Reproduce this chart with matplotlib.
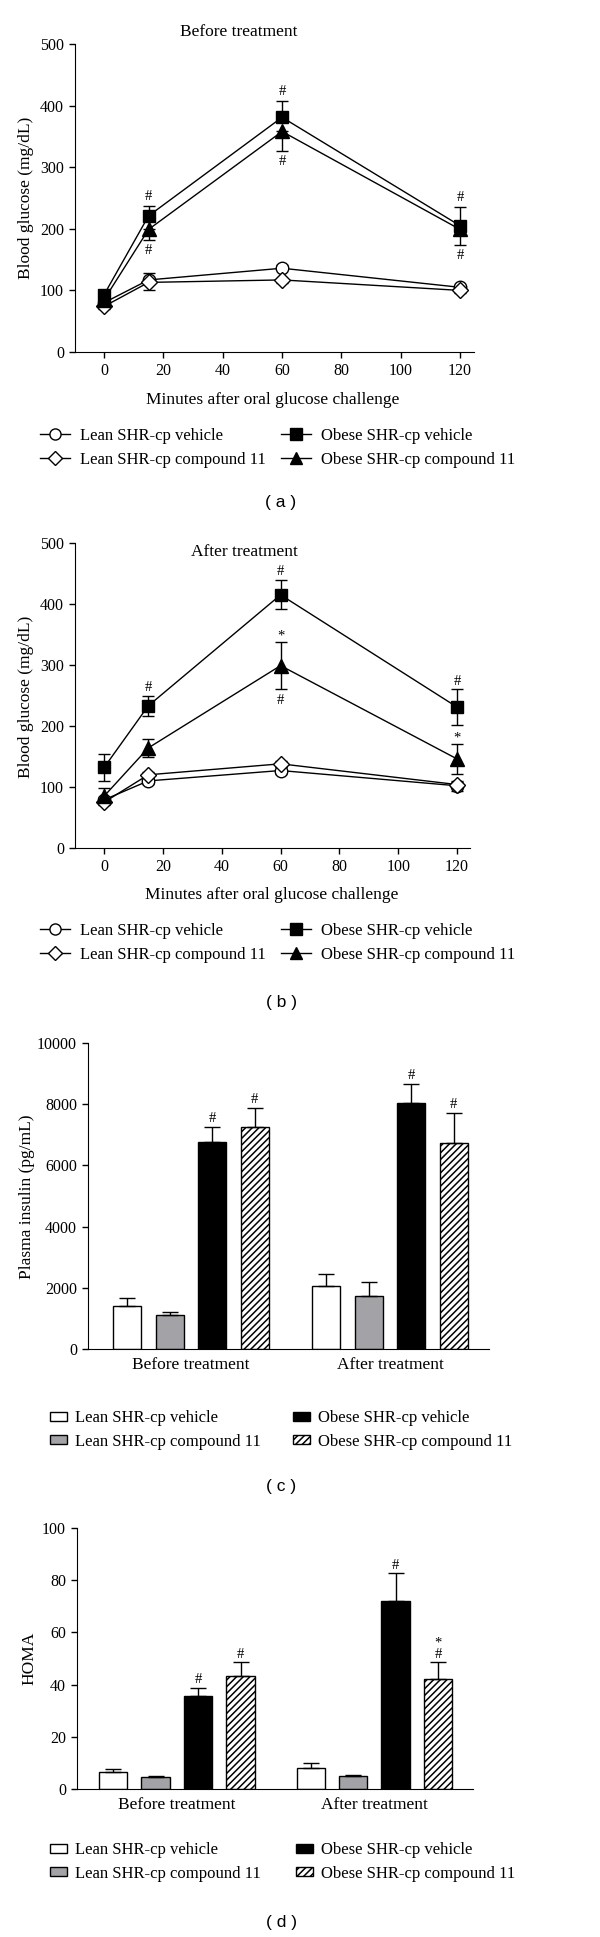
import matplotlib
matplotlib.use("Agg")
import matplotlib.pyplot as plt
from matplotlib.patches import Patch
from matplotlib.lines import Line2D
from matplotlib.legend import Legend

plt.rcParams['font.family'] = 'Liberation Serif'
plt.rcParams['hatch.linewidth'] = 1.1

W, H = 600, 1937

# ---- data ----
minutes = [0, 15, 60, 120]
labels = ['Lean SHR-cp vehicle', 'Lean SHR-cp compound 11',
          'Obese SHR-cp vehicle', 'Obese SHR-cp compound 11']

# (a) before treatment: mean, error (upper or lower side only)
lean_veh_a = [80, 117, 136, 105]
lean_veh_a_err = [5, 12, 5, 4]
lean_cmp_a = [74, 113, 117, 100]
lean_cmp_a_err = [4, 12, 5, 4]
obese_veh_a = [93, 221, 381, 205]
obese_veh_a_err = [8, 16, 26, 30]
obese_cmp_a = [85, 199, 358, 199]
obese_cmp_a_err = [6, 17, 31, 25]

# (b) after treatment: mean, symmetric error
lean_veh_b = [79, 110, 127, 102]
lean_veh_b_err = [4, 5, 5, 8]
lean_cmp_b = [75, 120, 138, 104]
lean_cmp_b_err = [4, 5, 5, 5]
obese_veh_b = [132, 233, 415, 231]
obese_veh_b_err = [22, 17, 24, 29]
obese_cmp_b = [85, 164, 299, 146]
obese_cmp_b_err = [13, 15, 39, 25]

groups = ['Before treatment', 'After treatment']
# (c) plasma insulin, per group: lean veh, lean cmp, obese veh, obese cmp
insulin_before = [1420, 1120, 6750, 7250]
insulin_before_err = [250, 80, 500, 620]
insulin_after = [2070, 1740, 8040, 6720]
insulin_after_err = [390, 440, 620, 990]

# (d) HOMA
homa_before = [6.5, 4.6, 35.8, 43.3]
homa_before_err = [1.3, 0.5, 2.9, 5.2]
homa_after = [7.9, 4.9, 71.9, 42.1]
homa_after_err = [2.1, 0.6, 10.7, 6.4]

# significance marks per group: (bar index, symbol, offset in points)
insulin_sig = [[(2, '#', 6), (3, '#', 6)], [(2, '#', 6), (3, '#', 6)]]
homa_sig = [[(2, '#', 6), (3, '#', 6)], [(2, '#', 6), (3, '#', 6), (3, '*', 14)]]

fig = plt.figure(figsize=(W / 100, H / 100), dpi=100)


def make_axes(l, r, t, b):
    ax = fig.add_axes([l / W, 1 - b / H, (r - l) / W, (b - t) / H])
    ax.spines['top'].set_visible(False)
    ax.spines['right'].set_visible(False)
    return ax


def ftext(x, y, s, **kw):
    fig.text(x / W, 1 - y / H, s, ha='center', va='center', **kw)


def mark(ax, x, y, s, dy):
    ax.annotate(s, (x, y), xytext=(0, dy), textcoords='offset points',
                ha='center', va='center', fontsize=10.5)


def add_legend(ax, handles, labs, x0, y_mid, **kw):
    lg = Legend(ax, handles, labs, loc='center left',
                bbox_to_anchor=(x0 / W, 1 - y_mid / H),
                bbox_transform=fig.transFigure, frameon=False, fontsize=12,
                borderpad=0, borderaxespad=0, **kw)
    ax.add_artist(lg)


def line_panel(ax, series):
    for y, yerr, mk, mfc, ms in series:
        ax.errorbar(minutes, y, yerr=yerr, color='black', marker=mk, mfc=mfc,
                    mec='black', ms=ms, lw=1.0, elinewidth=1.0, capsize=4.5,
                    capthick=1.0, zorder=3)
    ax.set_ylim(0, 500)
    ax.set_yticks(range(0, 501, 100))
    ax.set_xticks(range(0, 121, 20))
    ax.tick_params(labelsize=11.5, length=4, width=1, pad=4)
    ax.set_xlabel('Minutes after oral glucose challenge', fontsize=12.5, va='center')
    ax.set_ylabel('Blood glucose (mg/dL)', fontsize=12.5, va='center')


def line_legend(ax, y_mid):
    hs = [Line2D([], [], color='black', lw=1, marker='o', mfc='white', ms=8),
          Line2D([], [], color='black', lw=1, marker='D', mfc='white', ms=7.5),
          Line2D([], [], color='black', lw=1, marker='s', mfc='black', ms=8),
          Line2D([], [], color='black', lw=1, marker='^', mfc='black', ms=8.5)]
    for i, x0 in enumerate([40, 281]):
        add_legend(ax, hs[2 * i:2 * i + 2], labels[2 * i:2 * i + 2], x0, y_mid,
                   handlelength=1.8, handletextpad=0.6, labelspacing=0.45,
                   numpoints=1)


# ---- (a) ----
ax = make_axes(75, 474, 44, 352)
zero = [0, 0, 0, 0]
line_panel(ax, [
    (lean_veh_a, [zero, lean_veh_a_err], 'o', 'white', 9),
    (lean_cmp_a, [lean_cmp_a_err, zero], 'D', 'white', 8.5),
    (obese_veh_a, [zero, obese_veh_a_err], 's', 'black', 9),
    (obese_cmp_a, [obese_cmp_a_err, zero], '^', 'black', 9.5),
])
ax.set_xlim(-9.8, 124.7)
ax.xaxis.set_label_coords(0.496, -0.156)
ax.yaxis.set_label_coords(-0.123, 0.5)
for i in range(1, 4):
    mark(ax, minutes[i], obese_veh_a[i] + obese_veh_a_err[i], '#', 7)
    mark(ax, minutes[i], obese_cmp_a[i] - obese_cmp_a_err[i], '#', -8)
ftext(239, 32, 'Before treatment', fontsize=12.5)
line_legend(ax, 448)
ftext(281, 503, '( a )', fontsize=12.5, family='Liberation Sans')

# ---- (b) ----
ax = make_axes(75, 470, 543, 848)
line_panel(ax, [
    (lean_veh_b, lean_veh_b_err, 'o', 'white', 9),
    (lean_cmp_b, lean_cmp_b_err, 'D', 'white', 8.5),
    (obese_veh_b, obese_veh_b_err, 's', 'black', 9),
    (obese_cmp_b, obese_cmp_b_err, '^', 'black', 9.5),
])
ax.set_xlim(-9.9, 124.4)
ax.xaxis.set_label_coords(0.499, -0.154)
ax.yaxis.set_label_coords(-0.124, 0.495)
for i in range(1, 4):
    mark(ax, minutes[i], obese_veh_b[i] + obese_veh_b_err[i], '#', 6)
for i in [2, 3]:
    mark(ax, minutes[i], obese_cmp_b[i] + obese_cmp_b_err[i], '*', 4)
mark(ax, minutes[2], obese_cmp_b[2] - obese_cmp_b_err[2], '#', -8)
ax.text(0.43, 0.97, 'After treatment', transform=ax.transAxes, ha='center',
        va='center', fontsize=12.5)
line_legend(ax, 943)
ftext(281, 1002, '( b )', fontsize=12.5, family='Liberation Sans')


# ---- bar panels ----
bar_colors = ['white', '#a3a3a7', 'black', 'white']
bar_hatch = [None, None, None, '/////']
offsets = [-1.5, -0.5, 0.5, 1.5]


def bar_panel(ax, vals, errs, sigs, step, width):
    for g in range(2):
        for k in range(4):
            x = g + offsets[k] * step
            ax.bar(x, vals[g][k], width, yerr=[[0], [errs[g][k]]], color=bar_colors[k],
                   edgecolor='black', linewidth=1.0, hatch=bar_hatch[k],
                   error_kw=dict(elinewidth=1.0, capsize=5.5, capthick=1.0), zorder=2)
        for k, s, dy in sigs[g]:
            mark(ax, g + offsets[k] * step, vals[g][k] + errs[g][k], s, dy)
    ax.set_xticks([0, 1])
    ax.set_xticklabels(groups, fontsize=12.5)
    ax.tick_params(axis='x', length=0, pad=6)
    ax.tick_params(axis='y', labelsize=11.5, length=4, width=1, pad=4)


def bar_legend(ax, y_mid, xs):
    hs = [Patch(facecolor=c, edgecolor='black', hatch=h, lw=1.0)
          for c, h in zip(bar_colors, bar_hatch)]
    for i, x0 in enumerate(xs):
        add_legend(ax, hs[2 * i:2 * i + 2], labels[2 * i:2 * i + 2], x0, y_mid,
                   handlelength=1.0, handleheight=0.45, handletextpad=0.5,
                   labelspacing=0.45)


# ---- (c) ----
ax = make_axes(88, 489, 1043, 1349)
bar_panel(ax, [insulin_before, insulin_after], [insulin_before_err, insulin_after_err],
          insulin_sig, 0.2136, 0.141)
ax.set_xlim(-0.518, 1.497)
ax.set_ylim(0, 10000)
ax.set_yticks(range(0, 10001, 2000))
ax.set_ylabel('Plasma insulin (pg/mL)', fontsize=12.5, va='center')
ax.yaxis.set_label_coords(-0.152, 0.497)
bar_legend(ax, 1430, [50, 293])
ftext(281, 1487, '( c )', fontsize=12.5, family='Liberation Sans')

# ---- (d) ----
ax = make_axes(77, 473, 1528, 1789)
bar_panel(ax, [homa_before, homa_after], [homa_before_err, homa_after_err],
          homa_sig, 0.215, 0.144)
ax.set_xlim(-0.506, 1.499)
ax.set_ylim(0, 100)
ax.set_yticks(range(0, 101, 20))
ax.set_ylabel('HOMA', fontsize=12.5, va='center')
ax.yaxis.set_label_coords(-0.121, 0.5)
bar_legend(ax, 1862, [50, 296])
ftext(281, 1922, '( d )', fontsize=12.5, family='Liberation Sans')

fig.savefig('out.png', dpi=100)
